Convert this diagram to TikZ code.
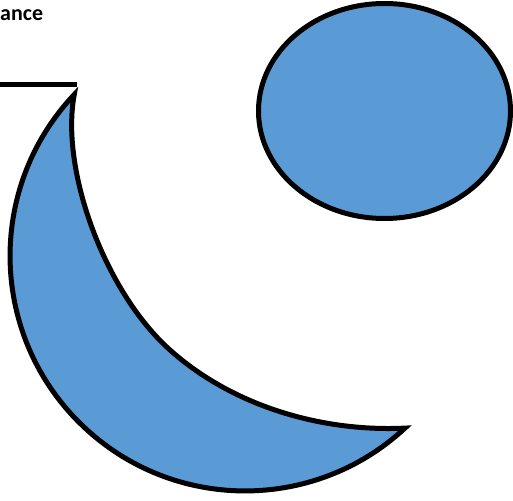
\documentclass[tikz,border=0pt]{standalone}
\usepackage{fontspec}
\setmainfont{Carlito}
\definecolor{moonblue}{HTML}{5B9BD5}
\begin{document}
\begin{tikzpicture}[x=1pt,y=1pt,
  blob/.style={fill=moonblue,draw=black,line width=5pt}]
  \useasboundingbox (0,0) rectangle (513,-500);
  \node[anchor=base west,inner sep=0pt,font=\bfseries\fontsize{22}{26}\selectfont] (label) at (0,-21) {ance};
  \coordinate (barL) at (0,-84.5);
  \coordinate (barR) at (77,-84.5);
  \draw[line width=5pt] (barL) -- (barR);
  % the ball
  \filldraw[blob] (384.5,-111) ellipse [x radius=126, y radius=107.5];
  % the moon
  \filldraw[blob] (74.3,-94.5) arc[start angle=136.6, end angle=312.9, radius=235]
    .. controls (325,-432) and (235,-408) .. (170,-350)
    .. controls (105,-292) and (60,-170) .. cycle;
\end{tikzpicture}
\end{document}
